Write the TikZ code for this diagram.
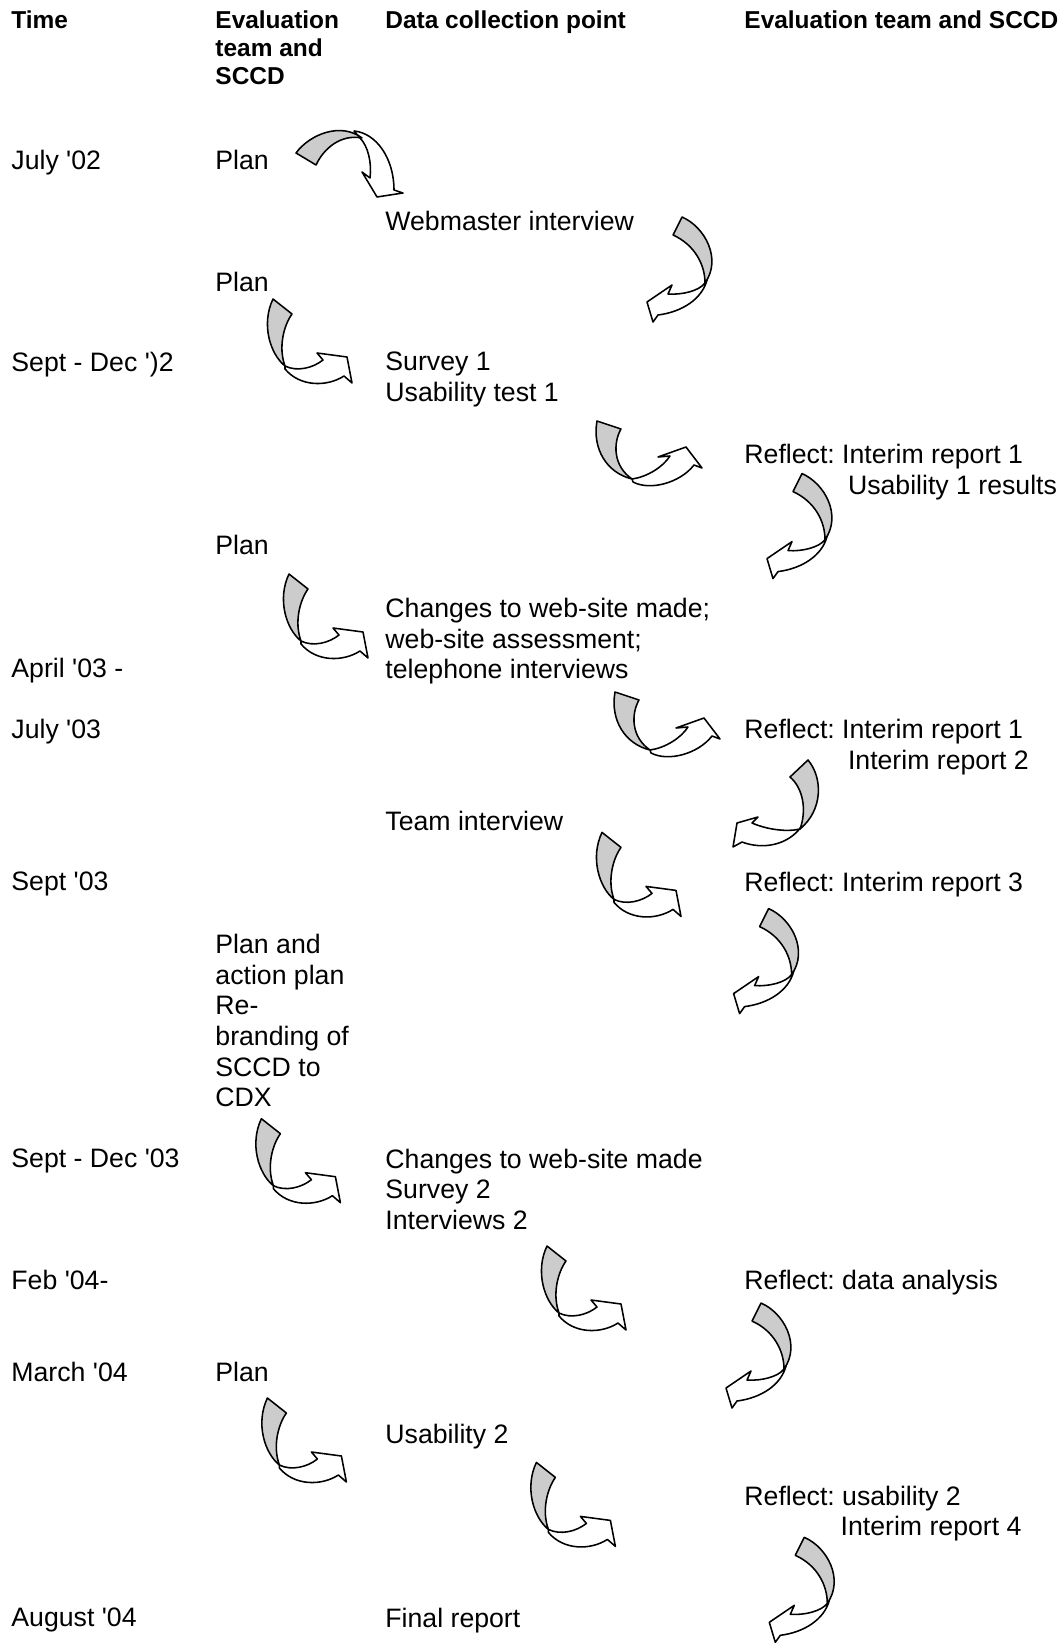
\documentclass[tikz,border=0pt]{standalone}
\usepackage{fontspec}
\newfontfamily\arialfont{Liberation Sans}
\usepackage{tikz}
\frenchspacing

\tikzset{
  lbl/.style={anchor=north west, inner sep=0pt, align=left,
    font=\arialfont\fontsize{12}{13.8}\selectfont},
  head/.style={lbl, font=\arialfont\bfseries\fontsize{11}{12.65}\selectfont},
  band/.style={draw=black, line width=0.7pt, line join=round},
  back/.style={band, fill=gray!40},
  front/.style={band, fill=white},
  curvedown/.pic={
    \path[front] (58,3) .. controls (80,5) and (98,30) .. (98,62) -- (107,65) -- (81,69)
      -- (66,44) -- (74,50) .. controls (76,35) and (72,18) .. (64,10) -- cycle;
    \path[back] (0,25) .. controls (14,6) and (45,-6) .. (66,10)
      .. controls (45,6) and (28,20) .. (20,37) -- cycle;
  },
  curveleft/.pic={
    \path[front] (58,66) .. controls (52,74) and (35,78) .. (21,77) -- (25,68) -- (0,85)
      -- (6,105) -- (11,98) .. controls (35,95) and (55,82) .. (60,63) -- cycle;
    \path[back] (35,0) .. controls (58,10) and (75,42) .. (58,66)
      .. controls (58,48) and (48,28) .. (26,18) -- cycle;
  },
  curveright/.pic={
    \path[front] (20,67) .. controls (32,73) and (48,69) .. (58,61) -- (52,54) -- (82,58)
      -- (87,84) -- (79,77) .. controls (62,88) and (35,88) .. (20,70) -- cycle;
    \path[back] (8,0) -- (27,15) .. controls (19,26) and (13,48) .. (20,67)
      .. controls (5,55) and (-4,25) .. (8,0) -- cycle;
  },
  wideright/.pic={
    \path[front] (37,58) .. controls (52,56) and (68,46) .. (75,35) -- (63,36) -- (91,26)
      -- (107,47) -- (99,44) .. controls (85,62) and (55,70) .. (38,61) -- cycle;
    \path[back] (2,0) -- (26,8) .. controls (18,22) and (18,45) .. (37,58)
      .. controls (12,52) and (-3,28) .. (2,0) -- cycle;
  },
  wideleft/.pic={
    \path[front] (67,69) .. controls (55,72) and (35,70) .. (19,63) -- (25,57) -- (4,63)
      -- (0,87) -- (9,82) .. controls (30,90) and (55,85) .. (68,67) -- cycle;
    \path[back] (75,0) .. controls (90,18) and (90,50) .. (67,69)
      .. controls (74,50) and (70,28) .. (57,17) -- cycle;
  },
}

\begin{document}
\begin{tikzpicture}[x=0.45pt, y=-0.45pt]
  \useasboundingbox (0,0) rectangle (1063,1643);

  % column heads
  \node[head] (htime) at (11,10) {Time};
  \node[head] (heval) at (215,10) {Evaluation\\team and\\SCCD};
  \node[head] (hdata) at (385,10) {Data collection point};
  \node[head] (hreflect) at (744,10) {Evaluation team and SCCD};

  % time column
  \node[lbl] (tjul02) at (11,149.4) {July '02};
  \node[lbl] (tsep02) at (11,351.5) {Sept - Dec ')2};
  \node[lbl] (tapr03) at (11,657.3) {April '03 -};
  \node[lbl] (tjul03) at (11,719) {July '03};
  \node[lbl] (tsep03) at (11,871.9) {Sept '03};
  \node[lbl] (tsepdec03) at (11,1148.3) {Sept - Dec '03};
  \node[lbl] (tfeb04) at (11,1269.7) {Feb '04-};
  \node[lbl] (tmar04) at (11,1361.8) {March '04};
  \node[lbl] (taug04) at (11,1607.9) {August '04};

  % plans
  \node[lbl] (plan1) at (215,149.4) {Plan};
  \node[lbl] (plan2) at (215,271.8) {Plan};
  \node[lbl] (plan3) at (215,534.8) {Plan};
  \node[lbl] (plan4) at (215,933.6) {Plan and\\action plan\\Re-\\branding of\\SCCD to\\CDX};
  \node[lbl] (plan5) at (215,1361.8) {Plan};

  % data collection
  \node[lbl] (dweb) at (385,211.2) {Webmaster interview};
  \node[lbl] (dsurvey1) at (385,351.5) {Survey 1\\Usability test 1};
  \node[lbl] (dchanges1) at (385,597.6) {Changes to web-site made;\\web-site assessment;\\telephone interviews};
  \node[lbl] (dteam) at (385,811.1) {Team interview};
  \node[lbl] (dchanges2) at (385,1148.3) {Changes to web-site made\\Survey 2\\Interviews 2};
  \node[lbl] (dusab2) at (385,1423.6) {Usability 2};
  \node[lbl] (dfinal) at (385,1607.9) {Final report};

  % reflection
  \node[lbl] (rint1) at (744,443.6) {Reflect: Interim report 1\\\hspace*{46.6pt}Usability 1 results};
  \node[lbl] (rint2) at (744,719) {Reflect: Interim report 1\\\hspace*{46.6pt}Interim report 2};
  \node[lbl] (rint3) at (744,871.9) {Reflect: Interim report 3};
  \node[lbl] (rdata) at (744,1269.7) {Reflect: data analysis};
  \node[lbl] (rusab2) at (744,1485.3) {Reflect: usability 2\\\hspace*{43.3pt}Interim report 4};

  % curved arrows
  \pic at (296,128) {curvedown};
  \pic at (647,217) {curveleft};
  \pic at (265,299) {curveright};
  \pic at (595,421) {wideright};
  \pic at (767,473.6) {curveleft};
  \pic at (281,574) {curveright};
  \pic at (613,692) {wideright};
  \pic at (733,760) {wideleft};
  \pic at (594,832.4) {curveright};
  \pic at (733.6,908.6) {curveleft};
  \pic at (253.4,1118.7) {curveright};
  \pic at (539,1246) {curveright};
  \pic at (726,1303) {curveleft};
  \pic at (259.4,1398) {curveright};
  \pic at (528.4,1462.4) {curveright};
  \pic at (769.3,1537.3) {curveleft};
\end{tikzpicture}
\end{document}
